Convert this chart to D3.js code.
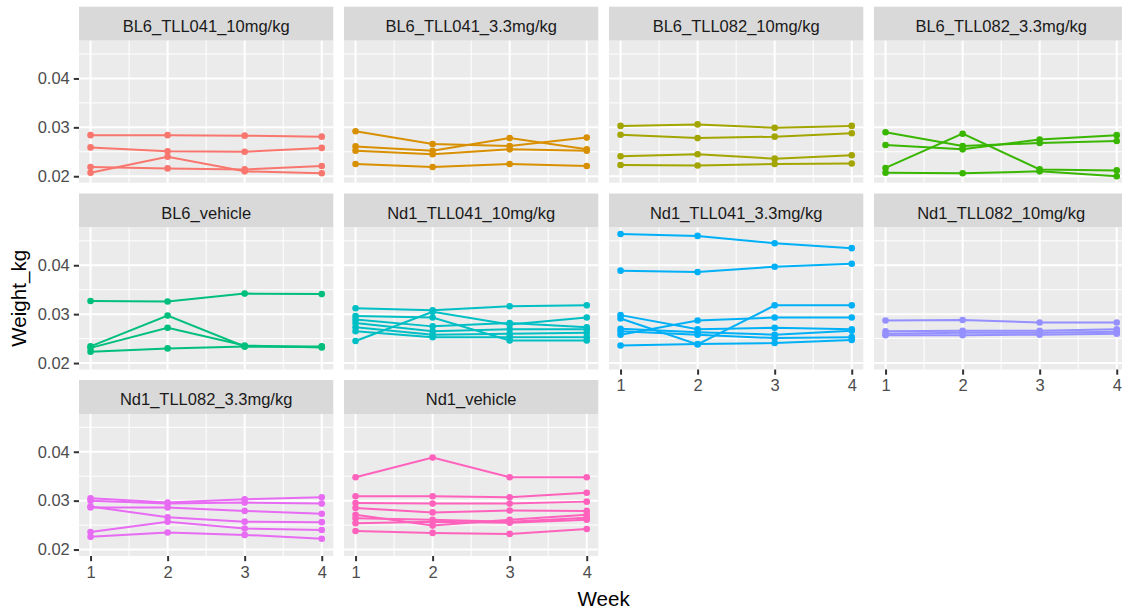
<!DOCTYPE html>
<meta charset="utf-8">
<title>Weight by week</title>
<style>
  body { margin: 0; background: #fff; }
  svg text { font-family: "Liberation Sans", Arial, sans-serif; }
</style>
<svg id="chart" width="1122" height="610"></svg>
<script src="https://cdn.jsdelivr.net/npm/d3@7"></script>
<script>

// ---- data ----
var weeks = [1, 2, 3, 4];

var groups = ["BL6_TLL041_10mg/kg", "BL6_TLL041_3.3mg/kg", "BL6_TLL082_10mg/kg", "BL6_TLL082_3.3mg/kg",
              "BL6_vehicle", "Nd1_TLL041_10mg/kg", "Nd1_TLL041_3.3mg/kg", "Nd1_TLL082_10mg/kg",
              "Nd1_TLL082_3.3mg/kg", "Nd1_vehicle"];

var colors = ["#F8766D", "#D89000", "#A3A500", "#39B600", "#00BF7D",
              "#00BFC4", "#00B0F6", "#9590FF", "#E76BF3", "#FF62BC"];

// one row per mouse, weight_kg at weeks 1..4
var bl6_041_10 = [
  [0.0284, 0.0284, 0.0283, 0.0281],
  [0.0259, 0.0251, 0.0250, 0.0258],
  [0.0207, 0.0240, 0.0210, 0.0206],
  [0.0219, 0.0216, 0.0214, 0.0221]];
var bl6_041_33 = [
  [0.0292, 0.0266, 0.0262, 0.0279],
  [0.0261, 0.0252, 0.0278, 0.0255],
  [0.0252, 0.0245, 0.0255, 0.0252],
  [0.0225, 0.0219, 0.0225, 0.0221]];
var bl6_082_10 = [
  [0.0303, 0.0306, 0.0299, 0.0303],
  [0.0285, 0.0278, 0.0281, 0.0288],
  [0.0241, 0.0245, 0.0236, 0.0243],
  [0.0223, 0.0222, 0.0225, 0.0226]];
var bl6_082_33 = [
  [0.0290, 0.0262, 0.0268, 0.0272],
  [0.0264, 0.0255, 0.0275, 0.0284],
  [0.0217, 0.0287, 0.0214, 0.0212],
  [0.0207, 0.0206, 0.0210, 0.0200]];
var bl6_vehicle = [
  [0.0327, 0.0326, 0.0342, 0.0341],
  [0.0234, 0.0297, 0.0234, 0.0233],
  [0.0231, 0.0272, 0.0236, 0.0232],
  [0.0223, 0.0230, 0.0234, 0.0234]];
var nd1_041_10 = [
  [0.0312, 0.0308, 0.0316, 0.0318],
  [0.0245, 0.0305, 0.0279, 0.0293],
  [0.0296, 0.0293, 0.0246, 0.0246],
  [0.0289, 0.0275, 0.0282, 0.0273],
  [0.0282, 0.0265, 0.0269, 0.0269],
  [0.0273, 0.0258, 0.0260, 0.0262],
  [0.0265, 0.0253, 0.0253, 0.0253]];
var nd1_041_33 = [
  [0.0464, 0.0460, 0.0445, 0.0435],
  [0.0389, 0.0386, 0.0397, 0.0403],
  [0.0291, 0.0238, 0.0318, 0.0318],
  [0.0258, 0.0287, 0.0293, 0.0293],
  [0.0298, 0.0269, 0.0272, 0.0269],
  [0.0270, 0.0263, 0.0258, 0.0266],
  [0.0265, 0.0258, 0.0251, 0.0253],
  [0.0236, 0.0239, 0.0241, 0.0247]];
var nd1_082_10 = [
  [0.0287, 0.0288, 0.0283, 0.0283],
  [0.0265, 0.0266, 0.0266, 0.0269],
  [0.0260, 0.0262, 0.0262, 0.0264],
  [0.0257, 0.0257, 0.0258, 0.0260]];
var nd1_082_33 = [
  [0.0305, 0.0296, 0.0303, 0.0307],
  [0.0300, 0.0294, 0.0296, 0.0294],
  [0.0286, 0.0286, 0.0279, 0.0273],
  [0.0288, 0.0266, 0.0257, 0.0256],
  [0.0236, 0.0257, 0.0243, 0.0240],
  [0.0226, 0.0235, 0.0230, 0.0222]];
var nd1_vehicle = [
  [0.0348, 0.0388, 0.0348, 0.0348],
  [0.0309, 0.0309, 0.0307, 0.0316],
  [0.0295, 0.0294, 0.0294, 0.0298],
  [0.0285, 0.0276, 0.0280, 0.0279],
  [0.0271, 0.0249, 0.0261, 0.0271],
  [0.0264, 0.0261, 0.0257, 0.0265],
  [0.0254, 0.0257, 0.0255, 0.0261],
  [0.0238, 0.0234, 0.0232, 0.0242]];

var series = [bl6_041_10, bl6_041_33, bl6_082_10, bl6_082_33, bl6_vehicle,
              nd1_041_10, nd1_041_33, nd1_082_10, nd1_082_33, nd1_vehicle];

var yTicks = [0.02, 0.03, 0.04];
var yMinor = [0.025, 0.035, 0.045];
var xMinor = [1.5, 2.5, 3.5];

// ---- layout ----
var ncol = 4
  , panelLeft = 79
  , colStep = 265
  , panelW = 254.3
  , panelTops = [40.7, 227.5, 414]
  , panelH = 142
  , stripH = 34
  , fontSize = 16.5;

var svg = d3.select("#chart");

// ggplot-style 5% expansion
var allVals = d3.merge(series.map(function(s) { return d3.merge(s); }));
var ext = d3.extent(allVals), pad = (ext[1] - ext[0]) * 0.05;

var x = d3.scaleLinear()
    .domain([1 - 0.15, 4 + 0.15])
    .range([0, panelW]);

var y = d3.scaleLinear()
    .domain([ext[0] - pad, ext[1] + pad])
    .range([panelH, 0]);

var line = d3.line()
    .x(function(d, i) { return x(weeks[i]); })
    .y(function(d) { return y(d); });

groups.forEach(function(name, k) {
  var col = k % ncol, row = Math.floor(k / ncol);
  var px = panelLeft + col * colStep, py = panelTops[row];
  var g = svg.append("g").attr("transform", "translate(" + px + "," + py + ")");

  // strip
  g.append("rect")
    .attr("x", 0).attr("y", -stripH)
    .attr("width", panelW).attr("height", stripH)
    .attr("fill", "#D9D9D9");
  g.append("text")
    .attr("x", panelW / 2).attr("y", -stripH + 25)
    .attr("text-anchor", "middle")
    .attr("font-size", fontSize)
    .attr("fill", "#1A1A1A")
    .text(name);

  // panel background + grid
  g.append("rect")
    .attr("width", panelW).attr("height", panelH)
    .attr("fill", "#EBEBEB");

  g.selectAll(".ymin").data(yMinor.filter(function(v) { return v > y.domain()[0] && v < y.domain()[1]; }))
    .enter().append("line")
    .attr("x1", 0).attr("x2", panelW)
    .attr("y1", y).attr("y2", y)
    .attr("stroke", "#fff").attr("stroke-width", 1);
  g.selectAll(".xmin").data(xMinor)
    .enter().append("line")
    .attr("y1", 0).attr("y2", panelH)
    .attr("x1", x).attr("x2", x)
    .attr("stroke", "#fff").attr("stroke-width", 1);
  g.selectAll(".ymaj").data(yTicks)
    .enter().append("line")
    .attr("x1", 0).attr("x2", panelW)
    .attr("y1", y).attr("y2", y)
    .attr("stroke", "#fff").attr("stroke-width", 2);
  g.selectAll(".xmaj").data(weeks)
    .enter().append("line")
    .attr("y1", 0).attr("y2", panelH)
    .attr("x1", x).attr("x2", x)
    .attr("stroke", "#fff").attr("stroke-width", 2);

  // lines + points
  var c = colors[k];
  series[k].forEach(function(s) {
    g.append("path")
      .attr("d", line(s))
      .attr("fill", "none")
      .attr("stroke", c)
      .attr("stroke-width", 2);
    g.selectAll(null).data(s).enter().append("circle")
      .attr("cx", function(d, i) { return x(weeks[i]); })
      .attr("cy", y)
      .attr("r", 3.3)
      .attr("fill", c);
  });

  // y axis on the first column
  if (col === 0) {
    var ya = g.append("g")
      .call(d3.axisLeft(y).tickValues(yTicks).tickSize(5.2).tickPadding(4).tickFormat(d3.format(".2f")));
    ya.select(".domain").remove();
    ya.selectAll("line").attr("stroke", "#333333").attr("stroke-width", 2);
    ya.selectAll("text").attr("font-size", fontSize).attr("fill", "#4D4D4D")
      .attr("font-family", "Liberation Sans, Arial, sans-serif");
  }

  // x axis at the bottom of each column
  var lastInCol = k + ncol >= groups.length;
  if (lastInCol) {
    var xa = g.append("g")
      .attr("transform", "translate(0," + panelH + ")")
      .call(d3.axisBottom(x).tickValues(weeks).tickSize(5.2).tickPadding(5).tickFormat(d3.format("d")));
    xa.select(".domain").remove();
    xa.selectAll("line").attr("stroke", "#333333").attr("stroke-width", 2);
    xa.selectAll("text").attr("font-size", fontSize).attr("fill", "#4D4D4D")
      .attr("font-family", "Liberation Sans, Arial, sans-serif");
  }
});

// axis titles
var axisTitle = fontSize * 11 / 8.8;
svg.append("text")
  .attr("x", panelLeft + (3 * colStep + panelW) / 2)
  .attr("y", 606)
  .attr("text-anchor", "middle")
  .attr("font-size", axisTitle)
  .attr("fill", "#000")
  .text("Week");

svg.append("text")
  .attr("transform", "translate(26," + ((panelTops[0] + panelTops[2] + panelH) / 2) + ") rotate(-90)")
  .attr("text-anchor", "middle")
  .attr("font-size", axisTitle)
  .attr("fill", "#000")
  .text("Weight_kg");
</script>
